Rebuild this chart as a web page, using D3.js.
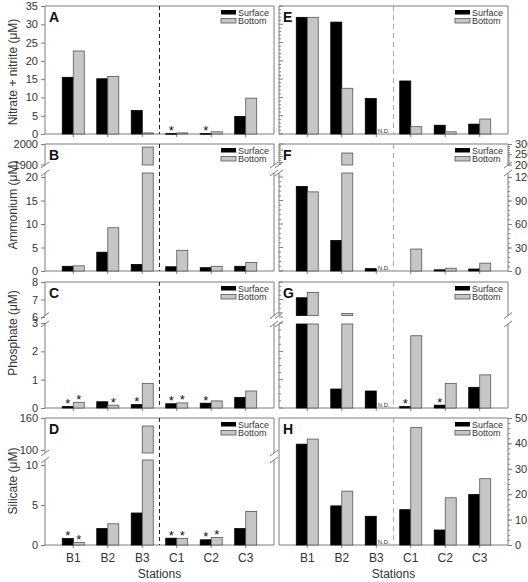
<!DOCTYPE html>
<html>
<head>
<meta charset="utf-8">
<script src="https://cdn.jsdelivr.net/npm/d3@7"></script>
<style>
  body { margin: 0; background: #fff; }
  text { font-family: "Liberation Sans", Arial, sans-serif; }
</style>
</head>
<body>
<svg id="chart" width="528" height="582"></svg>
<script>
const stations = ["B1", "B2", "B3", "C1", "C2", "C3"];

// nitrate + nitrite (A left, E right)
const nitrateLeftSurface  = [15.5, 15.1, 6.4, 0.1, 0.1, 4.8];
const nitrateLeftBottom   = [22.7, 15.7, 0.3, 0.3, 0.6, 9.8];
const nitrateRightSurface = [31.9, 30.6, 9.7, 14.5, 2.4, 2.7];
const nitrateRightBottom  = [31.9, 12.5, null, 2.0, 0.6, 4.1];
const nitrateLeftStars    = [[0, 0, 0, 1, 1, 0], [0, 0, 0, 0, 0, 0]];

// ammonium (B left, F right)
const ammoniumLeftSurface  = [1.0, 4.0, 1.4, 0.9, 0.7, 1.0];
const ammoniumLeftBottom   = [1.1, 9.2, 1985, 4.4, 1.0, 1.8];
const ammoniumRightSurface = [108, 39, 3, 0, 1.5, 2.5];
const ammoniumRightBottom  = [101, 256, null, 28, 3.5, 10];

// phosphate (C left, G right)
const phosphateLeftSurface  = [0.05, 0.22, 0.12, 0.15, 0.17, 0.37];
const phosphateLeftBottom   = [0.2, 0.1, 0.87, 0.18, 0.25, 0.6];
const phosphateRightSurface = [7.1, 0.67, 0.6, 0.05, 0.1, 0.73];
const phosphateRightBottom  = [7.4, 6.2, null, 2.55, 0.87, 1.17];
const phosphateLeftStars    = [[1, 0, 1, 1, 1, 0], [1, 1, 0, 1, 0, 0]];
const phosphateRightStars   = [[0, 0, 0, 1, 1, 0], [0, 0, 0, 0, 0, 0]];

// silicate (D left, H right)
const silicateLeftSurface  = [0.8, 2.05, 4.0, 0.85, 0.65, 2.05];
const silicateLeftBottom   = [0.3, 2.65, 145, 0.8, 0.95, 4.2];
const silicateRightSurface = [39.7, 15.4, 11.3, 13.9, 5.9, 19.9];
const silicateRightBottom  = [41.7, 21.2, null, 46.2, 18.6, 26.1];
const silicateLeftStars    = [[1, 0, 0, 1, 1, 0], [1, 0, 0, 1, 1, 0]];

// tick labels
const nitrateTicks = [0, 5, 10, 15, 20, 25, 30, 35];
const ammoniumTicksLow = [0, 5, 10, 15, 20];
const ammoniumTicksHigh = [1900, 2000];
const ammoniumRightTicksLow = [0, 30, 60, 90, 120];
const ammoniumRightTicksHigh = [200, 250, 300];
const phosphateTicksLow = [0, 1, 2, 3];
const phosphateTicksHigh = [6, 7, 8];
const silicateTicksLow = [0, 5, 10];
const silicateTicksHigh = [100, 160];
const silicateRightTicks = [0, 10, 20, 30, 40, 50];

const yTitles = ["Nitrate + nitrite (\u03BCM)", "Ammonium (\u03BCM)", "Phosphate (\u03BCM)", "Silicate (\u03BCM)"];

const svg = d3.select("#chart");
const frameColor = "#7d7d7d";
const textColor = "#333";

const cols = [{ x0: 45, x1: 274 }, { x0: 279, x1: 508 }];
const rowGeom = [
  { top: 6, bottom: 134 },
  { top: 144, bottom: 271, loTop: 177, hiBottom: 164.5, cutLo: 173, cutHi: 165 },
  { top: 282, bottom: 408, loTop: 323, hiBottom: 317, cutLo: 324, cutHi: 315.5 },
  { top: 418, bottom: 545, loTop: 465, hiBottom: 450, cutLo: 460, cutHi: 453 }
];

const panels = [
  { letter: "A", col: 0, row: 0, surface: nitrateLeftSurface, bottom: nitrateLeftBottom, stars: nitrateLeftStars,
    lo: [0, 35], left: { lo: nitrateTicks, labels: true } },
  { letter: "E", col: 1, row: 0, surface: nitrateRightSurface, bottom: nitrateRightBottom,
    lo: [0, 35], inner: { lo: d3.range(0, 36, 1), major: 5 } },
  { letter: "B", col: 0, row: 1, surface: ammoniumLeftSurface, bottom: ammoniumLeftBottom,
    lo: [0, 20], hi: [1900, 2000], left: { lo: ammoniumTicksLow, hi: ammoniumTicksHigh, labels: true } },
  { letter: "F", col: 1, row: 1, surface: ammoniumRightSurface, bottom: ammoniumRightBottom,
    lo: [0, 120], hi: [200, 300], inner: { lo: d3.range(0, 121, 6), hi: d3.range(200, 301, 10), major: 30 },
    right: { lo: ammoniumRightTicksLow, hi: ammoniumRightTicksHigh, minorLo: d3.range(0, 121, 6), minorHi: d3.range(200, 301, 10) } },
  { letter: "C", col: 0, row: 2, surface: phosphateLeftSurface, bottom: phosphateLeftBottom, stars: phosphateLeftStars,
    lo: [0, 3], hi: [6, 8], left: { lo: phosphateTicksLow, hi: phosphateTicksHigh, labels: true } },
  { letter: "G", col: 1, row: 2, surface: phosphateRightSurface, bottom: phosphateRightBottom, stars: phosphateRightStars,
    lo: [0, 3], hi: [6, 8], inner: { lo: d3.range(0, 3.01, 0.25), hi: d3.range(6, 8.01, 0.25), major: 1 } },
  { letter: "D", col: 0, row: 3, surface: silicateLeftSurface, bottom: silicateLeftBottom, stars: silicateLeftStars,
    lo: [0, 10], hi: [100, 160], left: { lo: silicateTicksLow, hi: silicateTicksHigh, labels: true } },
  { letter: "H", col: 1, row: 3, surface: silicateRightSurface, bottom: silicateRightBottom,
    lo: [0, 50], right: { lo: silicateRightTicks, minorLo: d3.range(0, 51, 2) } }
];

function styleAxis(sel) {
  sel.select(".domain").remove();
  sel.selectAll("line").attr("stroke", frameColor);
  sel.selectAll("text").attr("fill", textColor).style("font-size", "11px")
    .style("font-family", '"Liberation Sans", Arial, sans-serif');
}

function drawPanel(p) {
  const c = cols[p.col], r = rowGeom[p.row];
  const broken = !!p.hi;
  const g = svg.append("g");

  const x = d3.scalePoint().domain(stations).range([c.x0, c.x1]).padding(0.82);
  const yLo = d3.scaleLinear().domain(p.lo).range([r.bottom, broken ? r.loTop : r.top]);
  const yHi = broken ? d3.scaleLinear().domain(p.hi).range([r.hiBottom, r.top]) : null;

  // frame
  const line = (x1, y1, x2, y2) => g.append("line")
    .attr("x1", x1).attr("y1", y1).attr("x2", x2).attr("y2", y2)
    .attr("stroke", frameColor).attr("stroke-width", 1);
  line(c.x0, r.top, c.x1, r.top);
  line(c.x0, r.bottom, c.x1, r.bottom);
  [c.x0, c.x1].forEach(xx => {
    if (broken) {
      line(xx, r.top, xx, r.cutHi);
      line(xx, r.cutLo, xx, r.bottom);
      line(xx - 4, r.cutHi + 3, xx + 4, r.cutHi - 3);
      line(xx - 4, r.cutLo + 3, xx + 4, r.cutLo - 3);
    } else {
      line(xx, r.top, xx, r.bottom);
    }
  });

  // divider between B and C stations
  const xm = (x("B3") + x("C1")) / 2;
  g.append("line")
    .attr("x1", xm).attr("x2", xm).attr("y1", r.top).attr("y2", r.bottom)
    .attr("stroke", p.col === 0 ? "#222" : "#aaa")
    .attr("stroke-dasharray", p.col === 0 ? "4,3" : "5,4");

  // station ticks
  stations.forEach(s => line(x(s), r.bottom, x(s), r.bottom + 3));

  // left labelled axis
  if (p.left) {
    g.append("g").attr("transform", `translate(${c.x0},0)`)
      .call(d3.axisLeft(yLo).tickValues(p.left.lo).tickSize(4).tickPadding(3).tickFormat(d => d))
      .call(styleAxis);
    if (broken) {
      g.append("g").attr("transform", `translate(${c.x0},0)`)
        .call(d3.axisLeft(yHi).tickValues(p.left.hi).tickSize(4).tickPadding(3).tickFormat(d => d))
        .call(styleAxis);
    }
  }

  // inward unlabelled ticks on left border of right panels
  if (p.inner) {
    const addInner = (scale, vals) => {
      vals.forEach(v => {
        const big = Math.abs(v / p.inner.major - Math.round(v / p.inner.major)) < 1e-6;
        line(c.x0, scale(v), c.x0 + (big ? 4 : 2), scale(v));
      });
    };
    addInner(yLo, p.inner.lo);
    if (broken && p.inner.hi) addInner(yHi, p.inner.hi);
  }

  // right labelled axis
  if (p.right) {
    g.append("g").attr("transform", `translate(${c.x1},0)`)
      .call(d3.axisRight(yLo).tickValues(p.right.minorLo).tickSize(2).tickFormat(""))
      .call(styleAxis);
    g.append("g").attr("transform", `translate(${c.x1},0)`)
      .call(d3.axisRight(yLo).tickValues(p.right.lo).tickSize(4).tickPadding(3).tickFormat(d => d))
      .call(styleAxis);
    if (broken) {
      g.append("g").attr("transform", `translate(${c.x1},0)`)
        .call(d3.axisRight(yHi).tickValues(p.right.minorHi).tickSize(2).tickFormat(""))
        .call(styleAxis);
      g.append("g").attr("transform", `translate(${c.x1},0)`)
        .call(d3.axisRight(yHi).tickValues(p.right.hi).tickSize(4).tickPadding(3).tickFormat(d => d))
        .call(styleAxis);
    }
  }

  // bars
  const bw = 11;
  [p.surface, p.bottom].forEach((vals, si) => {
    vals.forEach((v, i) => {
      const xc = x(stations[i]);
      const bx = si === 0 ? xc - bw : xc;
      if (v === null) {
        g.append("text").attr("x", xc + 1.5).attr("y", r.bottom - 1.5)
          .style("font-size", "6px").attr("fill", textColor).text("N.D.");
        return;
      }
      if (v === 0) return;
      const bar = (y0, y1) => g.append("rect")
        .attr("x", bx).attr("y", y0).attr("width", bw).attr("height", Math.max(0.6, y1 - y0))
        .attr("fill", si === 0 ? "#000" : "#c6c6c6")
        .attr("stroke", si === 0 ? "#000" : "#555")
        .attr("stroke-width", 0.8);
      let topY;
      if (broken && v > p.lo[1]) {
        bar(r.cutLo, r.bottom);
        topY = yHi(v);
        bar(topY, r.cutHi);
      } else {
        topY = yLo(v);
        bar(topY, r.bottom);
      }
      if (p.stars && p.stars[si][i]) {
        g.append("text").attr("x", bx + bw / 2).attr("y", topY + 1.5)
          .attr("text-anchor", "middle").style("font-size", "13px").attr("fill", "#111").text("*");
      }
    });
  });

  // legend
  const lx = c.x1 - 53, ly = r.top + 4;
  g.append("rect").attr("x", lx).attr("y", ly).attr("width", 15).attr("height", 4.5).attr("fill", "#000");
  g.append("rect").attr("x", lx).attr("y", ly + 8.5).attr("width", 15).attr("height", 4.5)
    .attr("fill", "#c6c6c6").attr("stroke", "#555").attr("stroke-width", 0.8);
  g.append("text").attr("x", c.x1 - 36).attr("y", ly + 5.5).style("font-size", "9px").attr("fill", textColor).text("Surface");
  g.append("text").attr("x", c.x1 - 36).attr("y", ly + 14).style("font-size", "9px").attr("fill", textColor).text("Bottom");

  // panel letter
  g.append("text").attr("x", c.x0 + 4).attr("y", r.top + 16)
    .style("font-size", "14px").style("font-weight", "bold").attr("fill", "#111").text(p.letter);

  // station labels under bottom row
  if (p.row === 3) {
    stations.forEach(s => {
      g.append("text").attr("x", x(s)).attr("y", 562).attr("text-anchor", "middle")
        .style("font-size", "12px").attr("fill", textColor).text(s);
    });
    g.append("text").attr("x", (c.x0 + c.x1) / 2).attr("y", 578).attr("text-anchor", "middle")
      .style("font-size", "12px").attr("fill", textColor).text("Stations");
  }
}

panels.forEach(drawPanel);

// y-axis titles
const titleY = [72, 205, 333, 481];
yTitles.forEach((t, i) => {
  svg.append("text")
    .attr("transform", `translate(13,${titleY[i]}) rotate(-90)`)
    .attr("text-anchor", "middle").attr("dy", "0.35em")
    .style("font-size", "12px").attr("fill", textColor).text(t);
});
</script>
</body>
</html>
